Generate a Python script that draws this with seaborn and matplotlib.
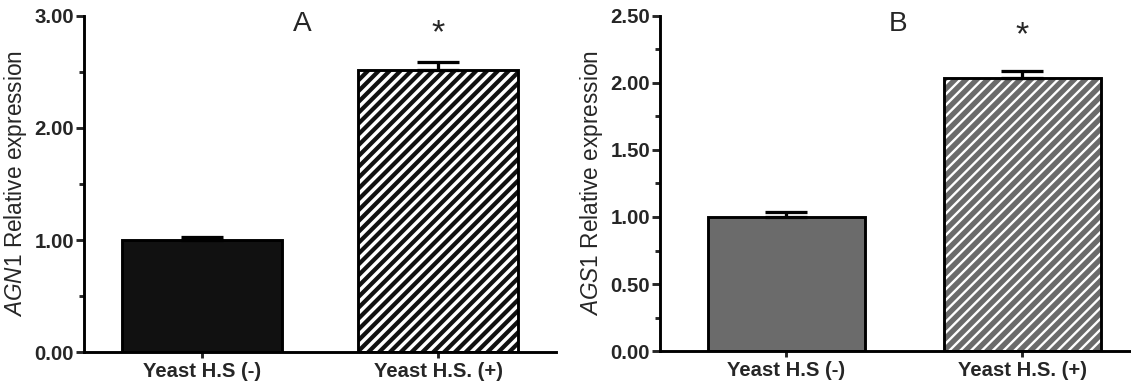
import matplotlib
matplotlib.use("Agg")
import matplotlib.pyplot as plt
import seaborn as sns
import numpy as np
import pandas as pd
from matplotlib.patches import Rectangle
from matplotlib.ticker import MultipleLocator, FormatStrFormatter

categories = ["Yeast H.S (-)", "Yeast H.S. (+)"]
agn1_mean = [1.00, 2.52]
agn1_err = [0.03, 0.07]
ags1_mean = [1.00, 2.04]
ags1_err = [0.035, 0.05]

DPI = 130
sns.set_style("ticks")
plt.rcParams['font.family'] = ['Liberation Sans', 'DejaVu Sans']
plt.rcParams['mathtext.fontset'] = 'custom'
plt.rcParams['mathtext.it'] = 'Liberation Sans:italic'
plt.rcParams['mathtext.rm'] = 'Liberation Sans'
plt.rcParams['hatch.linewidth'] = 1.6

fig = plt.figure(figsize=(1131 / DPI, 387 / DPI), dpi=DPI)
axA = fig.add_axes([0.0743, 0.0904, 0.4173, 0.8683])
axB = fig.add_axes([0.5836, 0.093, 0.4164, 0.8657])


def panel(ax, means, errs, color, width, ylim, major, minor, ylabel, letter, letter_x, star_y, xlim, hatch_lw):
    df = pd.DataFrame({"cat": categories, "val": means})
    sns.barplot(data=df, x="cat", y="val", hue="cat", palette=[color, color],
                legend=False, errorbar=None, width=width, ax=ax,
                edgecolor="black", linewidth=1.6, zorder=2)
    # hatched second bar
    p = ax.patches[1]
    p.set_hatch("////")
    p.set_edgecolor("white")
    p.set_linewidth(0)
    if hasattr(p, "set_hatch_linewidth"):
        p.set_hatch_linewidth(hatch_lw)
    ax.add_patch(Rectangle(p.get_xy(), p.get_width(), p.get_height(), fill=False,
                           edgecolor="black", linewidth=1.6, zorder=3))
    xs = np.arange(len(categories))
    ax.errorbar(xs, means, yerr=[np.zeros(len(errs)), errs], fmt="none",
                ecolor="black", elinewidth=1.8, capsize=11.6, capthick=1.8, zorder=4)
    ax.set_ylim(*ylim)
    ax.set_xlim(*xlim)
    ax.yaxis.set_major_locator(MultipleLocator(major))
    ax.yaxis.set_minor_locator(MultipleLocator(minor))
    ax.yaxis.set_major_formatter(FormatStrFormatter("%.2f"))
    ax.set_xlabel("")
    ax.set_ylabel(ylabel, fontsize=12.5, labelpad=3)
    sns.despine(ax=ax)
    for s in ["left", "bottom"]:
        ax.spines[s].set_linewidth(1.6)
        ax.spines[s].set_color("black")
    ax.tick_params(axis="y", which="major", length=4.5, width=1.6, direction="out", pad=1, labelsize=11.3)
    ax.tick_params(axis="y", which="minor", length=2.5, width=1.6, direction="out")
    ax.tick_params(axis="x", length=3.5, width=1.6, direction="out", pad=2, labelsize=11.2)
    for lab in ax.get_xticklabels() + ax.get_yticklabels():
        lab.set_fontweight("bold")
    ax.text(letter_x, 0.975, letter, transform=ax.transAxes, ha="center", va="center", fontsize=15.5)
    ax.text(1, star_y, "*", ha="center", va="center", fontsize=19)


panel(axA, agn1_mean, agn1_err, "#111111", 0.68, (0, 3.0), 1.0, 0.5,
      r"$\it{AGN1}$ Relative expression", "A", 0.462, 2.84, (-0.5, 1.5), 1.9)
panel(axB, ags1_mean, ags1_err, "#6b6b6b", 0.665, (0, 2.5), 0.5, 0.25,
      r"$\it{AGS1}$ Relative expression", "B", 0.505, 2.35, (-0.534, 1.46), 1.3)

fig.savefig("out.png", dpi=DPI)
